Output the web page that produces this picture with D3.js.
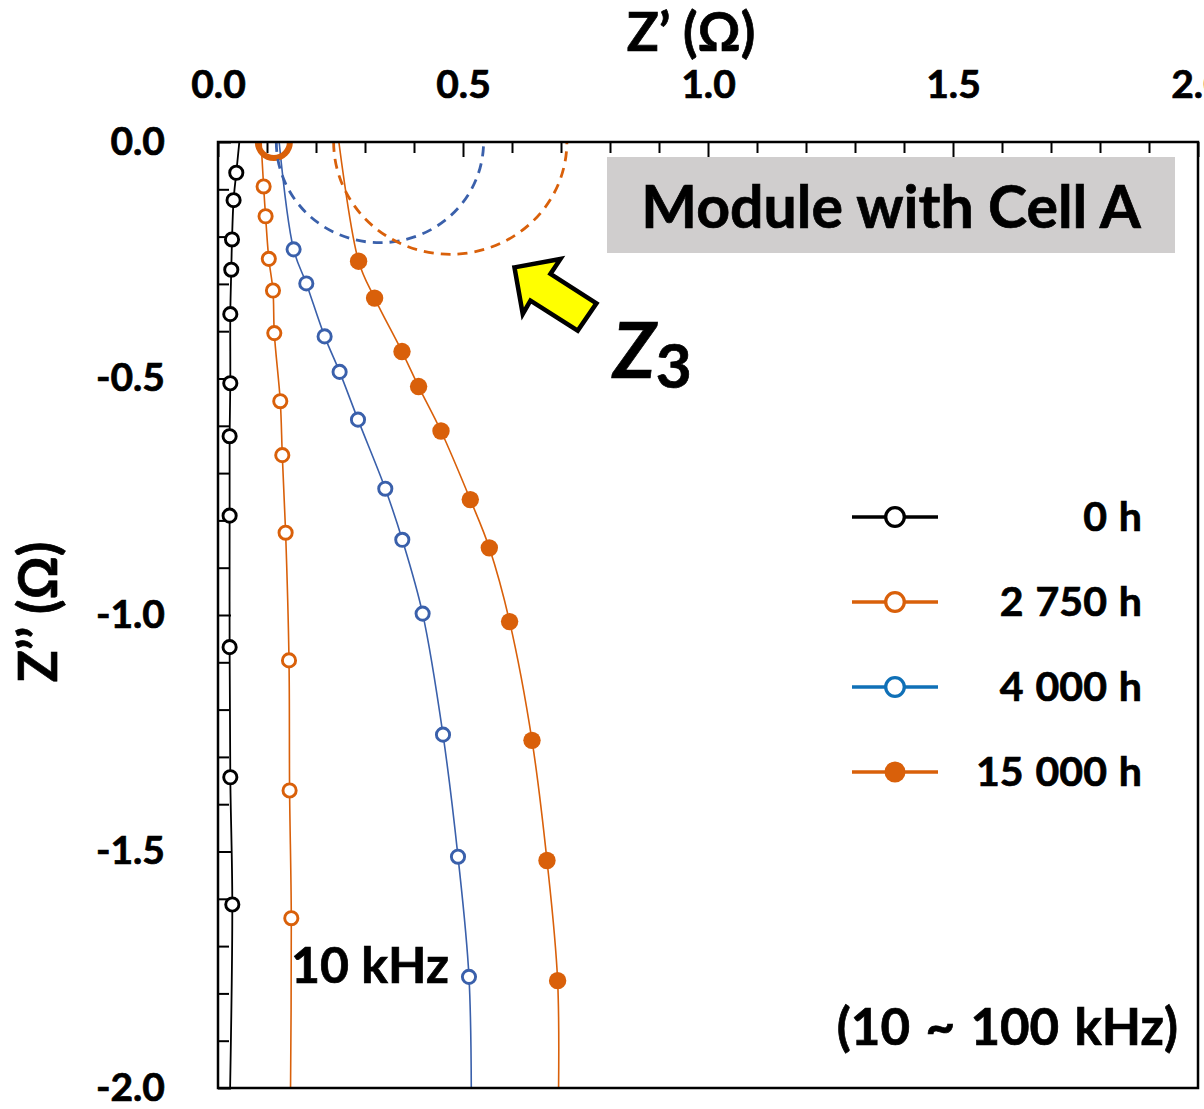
<!DOCTYPE html>
<html><head><meta charset="utf-8">
<script src="https://cdn.jsdelivr.net/npm/d3@7"></script>
<style>
body{margin:0;background:#fff}
svg{display:block}
text{font-family:Lato,'Open Sans',sans-serif;font-weight:700;fill:#000;stroke:#000;stroke-width:0.7px;paint-order:stroke}
</style>
</head><body>
<svg id="chart" width="1204" height="1109"></svg>
<script>
// ---------- data ----------
const xMajorTicks = [0, 0.5, 1.0, 1.5, 2.0];
const yMajorTicks = [0, -0.5, -1.0, -1.5, -2.0];
const seriesLabels = ["0 h", "2 750 h", "4 000 h", "15 000 h"];

// Z' (re) and Z'' (im) of the measured points, 100 kHz (top) -> 10 kHz (bottom)
const re_0h     = [0.0373, 0.0318, 0.0286, 0.0271, 0.0251, 0.0251, 0.0237, 0.0237, 0.0237, 0.0251, 0.0292];
const im_0h     = [-0.065, -0.123, -0.206, -0.270, -0.364, -0.510, -0.622, -0.790, -1.068, -1.343, -1.612];
const re_2750h  = [0.0931, 0.0971, 0.1037, 0.1122, 0.1149, 0.1271, 0.1312, 0.1380, 0.1449, 0.1461, 0.1496];
const im_2750h  = [-0.094, -0.157, -0.247, -0.314, -0.404, -0.548, -0.662, -0.826, -1.096, -1.371, -1.641];
const re_4000h  = [0.1543, 0.1802, 0.2176, 0.2482, 0.2857, 0.3414, 0.3761, 0.4176, 0.4592, 0.4898, 0.5122];
const im_4000h  = [-0.227, -0.299, -0.411, -0.486, -0.587, -0.733, -0.841, -0.997, -1.253, -1.511, -1.765];
const re_15000h = [0.2869, 0.3196, 0.3755, 0.4094, 0.4551, 0.5149, 0.5537, 0.5951, 0.6408, 0.6714, 0.6931];
const im_15000h = [-0.252, -0.330, -0.443, -0.517, -0.611, -0.756, -0.858, -1.014, -1.265, -1.519, -1.773];

// continuation of each curve beyond the visible frame (line only, no marker)
const lineHead = [[0.0464, 0.03], [0.0864, 0.03], [0.122, 0.03], [0.243, 0.03]];
const lineTail = [[0.0233, -2.08], [0.1475, -2.08], [0.517, -2.08], [0.694, -2.08]];

// high-frequency loop of the 2 750 h curve at the top edge (centre re, centre im, radius)
const loop2750 = [0.114, 0.0, 0.0327];

// Z3 fitted arcs: [start Z', end Z', depth]
const arcZ3_4000h  = [0.119, 0.542, 0.213];
const arcZ3_15000h = [0.236, 0.712, 0.2375];

// ---------- setup ----------
const svg = d3.select("#chart");
const L = 218, T = 142, R = 1198, B = 1088;
const x = d3.scaleLinear().domain([0, 2]).range([L, R]);
const y = d3.scaleLinear().domain([0, -2]).range([T, B]);

const ORANGE = "#D9600A", BLUE = "#3A60AB", BLUE_LEG = "#0F70B7";
const series = [
  {re: re_0h,     im: im_0h,     color: "#000", fill: "#fff", legColor: "#000"},
  {re: re_2750h,  im: im_2750h,  color: ORANGE, fill: "#fff", legColor: ORANGE},
  {re: re_4000h,  im: im_4000h,  color: BLUE,   fill: "#fff", legColor: BLUE_LEG},
  {re: re_15000h, im: im_15000h, color: ORANGE, fill: ORANGE, legColor: ORANGE}
];

svg.append("defs").append("clipPath").attr("id", "plotClip")
  .append("rect").attr("x", L).attr("y", T).attr("width", R - L).attr("height", B - T);

const fmt = d => (d === 0 ? "0.0" : d.toFixed(1));

// ---------- axes ----------
const minorX = d3.range(0, 2.0001, 0.1).filter(v => Math.abs(v * 2 - Math.round(v * 2)) > 1e-6);
const minorY = d3.range(0, -2.0001, -0.1).filter(v => Math.abs(v * 2 - Math.round(v * 2)) > 1e-6);

const gxMinor = svg.append("g").attr("transform", `translate(0,${T})`)
  .call(d3.axisTop(x).tickValues(minorX).tickSize(-11).tickFormat(""));
const gx = svg.append("g").attr("transform", `translate(0,${T})`)
  .call(d3.axisTop(x).tickValues(xMajorTicks).tickSize(-15).tickPadding(44).tickFormat(fmt));
const gyMinor = svg.append("g").attr("transform", `translate(${L},0)`)
  .call(d3.axisLeft(y).tickValues(minorY).tickSize(-11).tickFormat(""));
const gy = svg.append("g").attr("transform", `translate(${L},0)`)
  .call(d3.axisLeft(y).tickValues(yMajorTicks).tickSize(-13).tickPadding(53).tickFormat(fmt));

[gxMinor, gx, gyMinor, gy].forEach(g => {
  g.select(".domain").remove();
  g.selectAll(".tick line").attr("stroke", "#000").attr("stroke-width", 2);
  g.selectAll(".tick text").attr("font-size", 39).attr("font-family", "Lato").attr("font-weight", 700).attr("fill", "#000");
});

// ---------- plot content ----------
const plot = svg.append("g").attr("clip-path", "url(#plotClip)");
const line = d3.line().x(d => x(d[0])).y(d => y(d[1])).curve(d3.curveCatmullRom.alpha(0.5));

series.forEach((s, i) => {
  const pts = [lineHead[i]].concat(s.re.map((r, k) => [r, s.im[k]]), [lineTail[i]]);
  plot.append("path").datum(pts).attr("d", line)
    .attr("fill", "none").attr("stroke", s.color).attr("stroke-width", i === 0 ? 1.8 : 1.6);
});

// high-frequency loop
plot.append("circle")
  .attr("cx", x(loop2750[0])).attr("cy", y(loop2750[1]))
  .attr("r", x(loop2750[2]) - x(0))
  .attr("fill", "none").attr("stroke", ORANGE).attr("stroke-width", 6);

// Z3 arcs
[[arcZ3_4000h, BLUE], [arcZ3_15000h, ORANGE]].forEach(([a, c]) => {
  const x1 = x(a[0]), x2 = x(a[1]);
  const rx = (x2 - x1) / 2, ry = y(-a[2]) - y(0);
  plot.append("path")
    .attr("d", `M${x1},${y(0)} A${rx},${ry} 0 0 0 ${x2},${y(0)}`)
    .attr("fill", "none").attr("stroke", c).attr("stroke-width", 2.8)
    .attr("stroke-dasharray", "10,7");
});

// markers
series.forEach((s, i) => {
  const filled = s.fill !== "#fff";
  svg.append("g").selectAll("circle")
    .data(s.re.map((r, k) => [r, s.im[k]]))
    .join("circle")
    .attr("cx", d => x(d[0])).attr("cy", d => y(d[1]))
    .attr("r", filled ? 8.7 : 6.6)
    .attr("fill", s.fill)
    .attr("stroke", s.color)
    .attr("stroke-width", filled ? 0 : 2.9);
});

// frame
svg.append("rect").attr("x", L).attr("y", T).attr("width", R - L).attr("height", B - T)
  .attr("fill", "none").attr("stroke", "#000").attr("stroke-width", 2.5);

// ---------- axis titles ----------
svg.append("text").attr("x", 691).attr("y", 51).attr("text-anchor", "middle")
  .attr("font-size", 53).text("Z’ (Ω)");
svg.append("text").attr("transform", "translate(57,612) rotate(-90)").attr("text-anchor", "middle")
  .attr("font-size", 53).text("Z’’ (Ω)");

// ---------- title box ----------
svg.append("rect").attr("x", 607).attr("y", 157).attr("width", 568).attr("height", 96).attr("fill", "#D0CECE");
svg.append("text").attr("x", 891).attr("y", 228).attr("text-anchor", "middle")
  .attr("font-size", 59).text("Module with Cell A");

// ---------- arrow + Z3 ----------
const tip = [x(0.605), y(-0.265)];
const arrowOffsets = [[0, 0], [46, -8.4], [36, 6.6], [82, 36], [63.3, 63.3], [16, 33.3], [8.3, 46.6]];
svg.append("polygon")
  .attr("points", arrowOffsets.map(o => [tip[0] + o[0], tip[1] + o[1]].join(",")).join(" "))
  .attr("fill", "#FFFF00").attr("stroke", "#000").attr("stroke-width", 4.5).attr("stroke-linejoin", "miter");

const z3 = svg.append("text").attr("x", 613).attr("y", 378).attr("font-size", 76);
z3.append("tspan").attr("font-style", "italic").text("Z");
z3.append("tspan").attr("font-size", 62).attr("dy", 10).text("3");

// ---------- annotations ----------
svg.append("text").attr("x", 291).attr("y", 983).attr("font-size", 50).text("10 kHz");
svg.append("text").attr("x", 1178).attr("y", 1045).attr("text-anchor", "end")
  .attr("font-size", 51).attr("word-spacing", 3).text("(10 ~ 100 kHz)");

// ---------- legend ----------
const legRows = [517, 602, 687, 772];
seriesLabels.forEach((lab, i) => {
  const s = series[i];
  const g = svg.append("g");
  g.append("line").attr("x1", 852).attr("x2", 938).attr("y1", legRows[i]).attr("y2", legRows[i])
    .attr("stroke", s.legColor).attr("stroke-width", 3.5);
  const filled = s.fill !== "#fff";
  g.append("circle").attr("cx", 895).attr("cy", legRows[i]).attr("r", filled ? 10.5 : 9.3)
    .attr("fill", filled ? s.legColor : "#fff").attr("stroke", s.legColor).attr("stroke-width", filled ? 0 : 3.3);
  g.append("text").attr("x", 1142).attr("y", legRows[i] + 14).attr("text-anchor", "end")
    .attr("font-size", 41).attr("word-spacing", 2).text(lab);
});
</script>
</body></html>
